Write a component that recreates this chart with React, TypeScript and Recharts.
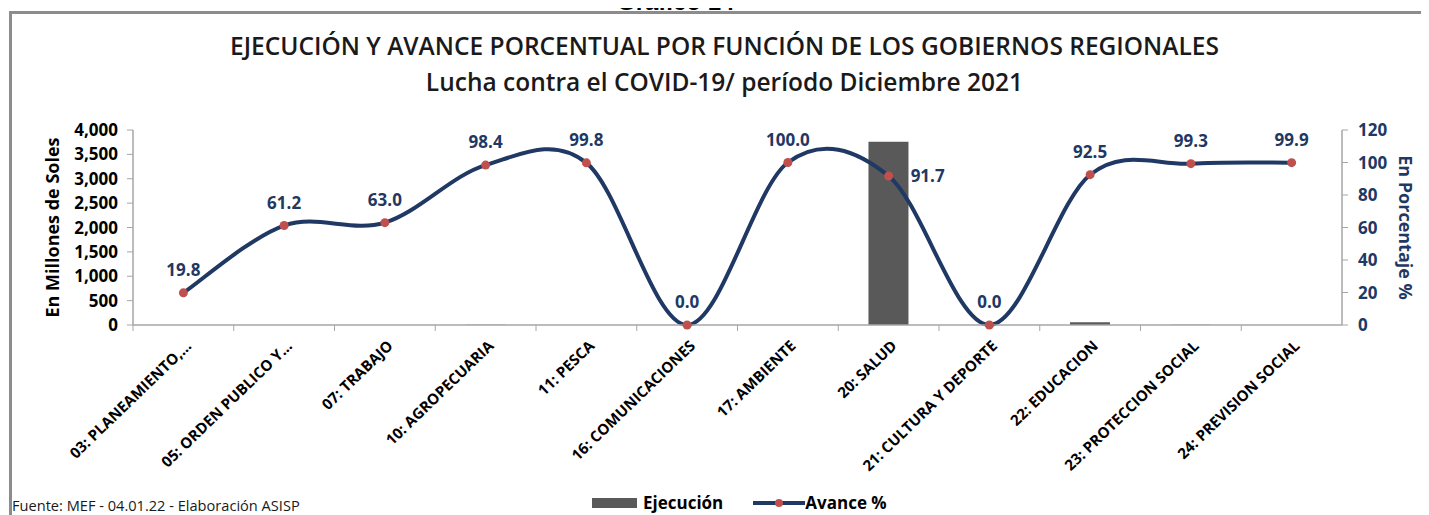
import React from 'react';
import {
  ComposedChart,
  Bar,
  Line,
  XAxis,
  YAxis,
  LabelList,
} from 'recharts';

const categories = [
  '03: PLANEAMIENTO,...',
  '05: ORDEN PUBLICO Y...',
  '07: TRABAJO',
  '10: AGROPECUARIA',
  '11: PESCA',
  '16: COMUNICACIONES',
  '17: AMBIENTE',
  '20: SALUD',
  '21: CULTURA Y DEPORTE',
  '22: EDUCACION',
  '23: PROTECCION SOCIAL',
  '24: PREVISION SOCIAL',
];

// Ejecución, millones de soles
const ejecucion = [0.3, 1, 0.5, 4, 0.2, 0, 0.5, 3760, 0, 55, 3, 2];

// Avance %
const avance = [19.8, 61.2, 63.0, 98.4, 99.8, 0.0, 100.0, 91.7, 0.0, 92.5, 99.3, 99.9];

const leftTicks = [0, 500, 1000, 1500, 2000, 2500, 3000, 3500, 4000];
const rightTicks = [0, 20, 40, 60, 80, 100, 120];

const data = categories.map((name, i) => ({
  name,
  ejecucion: ejecucion[i],
  avance: avance[i],
}));

const NAVY = '#1F3864';
const RED = '#C0504D';
const BAR = '#595959';
const FONT = '"Open Sans", "Noto Sans", sans-serif';

const CHART_W = 1429;
const CHART_H = 515;
const PLOT_LEFT = 133;
const PLOT_RIGHT = 1342;
const BAND = (PLOT_RIGHT - PLOT_LEFT) / categories.length;

// Excel-like smoothed line (Catmull-Rom through the points)
const excelCurve = (context: any) => {
  let pts: number[][] = [];
  return {
    areaStart() {},
    areaEnd() {},
    lineStart() {
      pts = [];
    },
    point(x: number, y: number) {
      pts.push([+x, +y]);
    },
    lineEnd() {
      if (!pts.length) return;
      context.moveTo(pts[0][0], pts[0][1]);
      for (let i = 0; i < pts.length - 1; i++) {
        const p0 = pts[Math.max(i - 1, 0)];
        const p1 = pts[i];
        const p2 = pts[i + 1];
        const p3 = pts[Math.min(i + 2, pts.length - 1)];
        context.bezierCurveTo(
          p1[0] + (p2[0] - p0[0]) / 6,
          p1[1] + (p2[1] - p0[1]) / 6,
          p2[0] - (p3[0] - p1[0]) / 6,
          p2[1] - (p3[1] - p1[1]) / 6,
          p2[0],
          p2[1]
        );
      }
    },
  };
};

const CategoryTick = (props: any) => {
  const { x, y, payload } = props;
  const axisY = y - 8;
  const tx = x + 9;
  const ty = axisY + 22;
  return (
    <g>
      <line x1={x - BAND / 2} y1={axisY} x2={x - BAND / 2} y2={axisY + 6} stroke="#A6A6A6" />
      <text
        x={tx}
        y={ty}
        textAnchor="end"
        transform={`rotate(-44 ${tx} ${ty})`}
        fontFamily={FONT}
        fontWeight={700}
        fontSize={15}
        fill="#000"
      >
        {payload.value}
      </text>
    </g>
  );
};

const AvanceLabel = (props: any) => {
  const { x, y, value, index } = props;
  const side = categories[index] === '20: SALUD';
  return (
    <text
      x={side ? x + 22 : x}
      y={side ? y + 6 : y - 17}
      textAnchor={side ? 'start' : 'middle'}
      fontFamily={FONT}
      fontWeight={700}
      fontSize={17}
      fill={NAVY}
    >
      {Number(value).toFixed(1)}
    </text>
  );
};

const LeftAxisLabel = (props: any) => {
  const { viewBox } = props;
  const cy = viewBox.y + viewBox.height / 2;
  return (
    <text
      x={59}
      y={cy}
      textAnchor="middle"
      transform={`rotate(-90 59 ${cy})`}
      fontFamily={FONT}
      fontWeight={700}
      fontSize={18}
      fill="#000"
    >
      En Millones de Soles
    </text>
  );
};

const RightAxisLabel = (props: any) => {
  const { viewBox } = props;
  const cy = viewBox.y + viewBox.height / 2;
  const cx = 1399;
  return (
    <text
      x={cx}
      y={cy}
      textAnchor="middle"
      transform={`rotate(90 ${cx} ${cy})`}
      fontFamily={FONT}
      fontWeight={700}
      fontSize={18}
      fill={NAVY}
    >
      En Porcentaje %
    </text>
  );
};

const Chart = () => {
  return (
    <div
      style={{
        position: 'relative',
        width: CHART_W,
        height: CHART_H,
        margin: '-8px 0 0 -8px',
        overflow: 'hidden',
        background: '#fff',
        fontFamily: FONT,
      }}
    >
      <div
        style={{
          position: 'absolute',
          left: 9,
          top: 11,
          width: CHART_W,
          height: CHART_H,
          borderLeft: '3px solid #8C8C8C',
          borderTop: '3px solid #8C8C8C',
        }}
      />
      <div
        style={{
          position: 'absolute',
          top: 28,
          left: 0,
          width: CHART_W,
          textAlign: 'center',
          fontWeight: 600,
          fontSize: 24.5,
          lineHeight: '36px',
          color: '#1a1a1a',
          paddingLeft: 10,
        }}
      >
        <div>EJECUCIÓN Y AVANCE PORCENTUAL POR FUNCIÓN DE LOS GOBIERNOS REGIONALES</div>
        <div>Lucha contra el COVID-19/ período Diciembre 2021</div>
      </div>

      <div style={{ position: 'absolute', left: 0, top: 0 }}>
        <ComposedChart
          width={CHART_W}
          height={CHART_H}
          data={data}
          barCategoryGap="30%"
          margin={{ top: 130, right: 27, left: 73, bottom: 70 }}
        >
          <XAxis
            dataKey="name"
            xAxisId="x"
            interval={0}
            height={120}
            tick={<CategoryTick />}
            tickLine={false}
            tickSize={6}
            tickMargin={2}
            axisLine={{ stroke: '#A6A6A6', strokeWidth: 1.5 }}
          />
          <YAxis
            yAxisId="left"
            width={60}
            domain={[0, 4000]}
            ticks={leftTicks}
            interval={0}
            tickFormatter={(v: number) => v.toLocaleString('en-US')}
            tick={{ fontSize: 17, fontWeight: 700, fill: '#000', fontFamily: FONT }}
            tickLine={{ stroke: '#A6A6A6' }}
            tickSize={6}
            tickMargin={9}
            axisLine={{ stroke: '#A6A6A6', strokeWidth: 1.5 }}
            label={<LeftAxisLabel />}
          />
          <YAxis
            yAxisId="right"
            orientation="right"
            width={60}
            domain={[0, 120]}
            ticks={rightTicks}
            interval={0}
            tick={{ fontSize: 17, fontWeight: 700, fill: NAVY, fontFamily: FONT }}
            tickLine={{ stroke: '#A6A6A6' }}
            tickSize={6}
            tickMargin={10}
            axisLine={{ stroke: '#A6A6A6', strokeWidth: 1.5 }}
            label={<RightAxisLabel />}
          />
          <Bar
            dataKey="ejecucion"
            xAxisId="x"
            yAxisId="left"
            fill={BAR}
            maxBarSize={40}
            isAnimationActive={false}
          />
          <Line
            dataKey="avance"
            xAxisId="x"
            yAxisId="right"
            type={excelCurve as any}
            stroke={NAVY}
            strokeWidth={4}
            dot={{ r: 4.5, fill: RED, stroke: 'none' }}
            activeDot={false}
            isAnimationActive={false}
          >
            <LabelList dataKey="avance" content={<AvanceLabel />} />
          </Line>
        </ComposedChart>
      </div>

      <svg
        width={CHART_W}
        height={12}
        style={{ position: 'absolute', left: 0, top: 0, zIndex: 5 }}
      >
        <text
          x={617}
          y={10}
          fontFamily="Liberation Sans, Arial, sans-serif"
          fontWeight={700}
          fontSize={24}
          fill="#000"
        >
          Gráfico 14
        </text>
      </svg>

      <div
        style={{
          position: 'absolute',
          left: 12,
          top: 496,
          fontSize: 14.6,
          lineHeight: '18px',
          color: '#1a1a1a',
        }}
      >
        Fuente: MEF - 04.01.22 - Elaboración ASISP
      </div>

      <div
        style={{
          position: 'absolute',
          left: 592,
          top: 491,
          display: 'flex',
          alignItems: 'center',
          fontSize: 17,
          fontWeight: 700,
          color: '#000',
        }}
      >
        <span style={{ display: 'inline-block', width: 45, height: 10, background: BAR, marginRight: 6 }} />
        <span>Ejecución</span>
        <svg width={52} height={12} style={{ marginLeft: 30 }}>
          <line x1={0} y1={6} x2={52} y2={6} stroke={NAVY} strokeWidth={4} />
          <circle cx={26} cy={6} r={4} fill={RED} />
        </svg>
        <span>Avance %</span>
      </div>
    </div>
  );
};

export default Chart;
